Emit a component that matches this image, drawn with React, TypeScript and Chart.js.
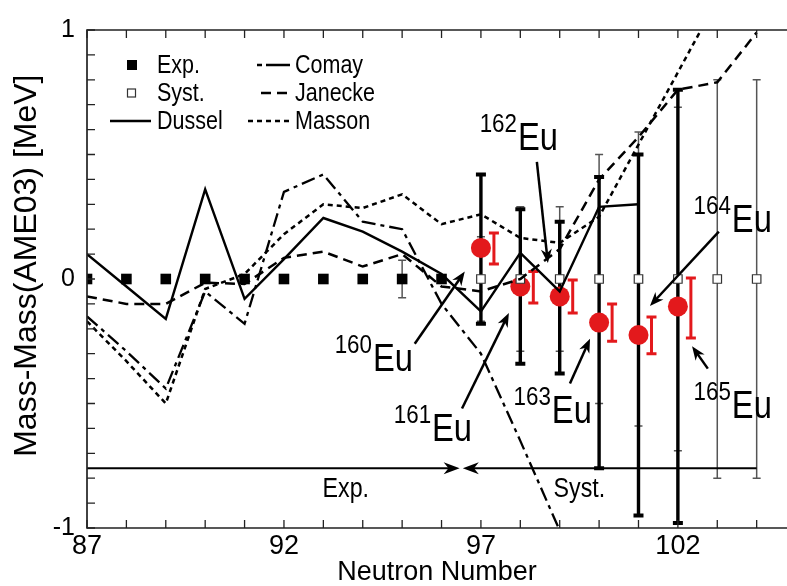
import React, { useEffect, useRef } from "react";
import { Chart, registerables } from "chart.js";

Chart.register(...registerables);

const REGULAR = "'Liberation Sans', Arial, sans-serif";
const INK = "#000000";
const RED = "#e3191c";
const CONDENSE = 0.86;

// ---- data (neutron number N, mass difference in MeV) ----
const dusselN = [87, 88, 89, 90, 91, 92, 93, 94, 95, 96, 97, 98, 99, 100, 101];
const dusselV = [0.10, -0.03, -0.16, 0.36, -0.08, 0.08, 0.245, 0.19, 0.11, 0.02, -0.13, 0.105, -0.05, 0.29, 0.30];

const comayN = [87, 88, 89, 90, 91, 92, 93, 94, 95, 96, 97, 98, 99];
const comayV = [-0.15, -0.29, -0.44, -0.05, -0.18, 0.35, 0.42, 0.23, 0.20, -0.10, -0.30, -0.65, -1.01];

const janeckeN = [87, 88, 89, 90, 91, 92, 93, 94, 95, 96, 97, 98, 99, 100, 101, 102, 103, 104];
const janeckeV = [-0.07, -0.10, -0.10, -0.015, -0.02, 0.085, 0.11, 0.05, 0.10, -0.03, -0.05, 0.0, 0.12, 0.40, 0.57, 0.76, 0.79, 0.99];

const massonN = [87, 88, 89, 90, 91, 92, 93, 94, 95, 96, 97, 98, 99, 100, 101, 102, 103];
const massonV = [-0.17, -0.33, -0.50, -0.04, 0.02, 0.18, 0.30, 0.285, 0.34, 0.22, 0.26, 0.165, 0.145, 0.25, 0.54, 0.83, 1.12];

const expN = [87, 88, 89, 90, 91, 92, 93, 94, 95, 96];
const expV = [0, 0, 0, 0, 0, 0, 0, 0, 0, 0];
const expErr = [0, 0, 0, 0, 0, 0, 0, 0, 0.075, 0];

const systN = [97, 98, 99, 100, 101, 102, 103, 104];
const systV = [0, 0, 0, 0, 0, 0, 0, 0];
const systErr = [0.17, 0.29, 0.29, 0.50, 0.59, 0.69, 0.80, 0.80];

const euN = [97, 98, 99, 100, 101, 102];
const euV = [0.125, -0.03, -0.07, -0.175, -0.225, -0.11];
const euBarLow = [-0.18, -0.34, -0.38, -0.76, -0.95, -0.98];
const euBarHigh = [0.42, 0.28, 0.23, 0.41, 0.50, 0.76];
const redBarLow = [0.06, -0.096, -0.137, -0.25, -0.30, -0.237];
const redBarHigh = [0.185, 0.03, -0.004, -0.10, -0.153, 0.004];

// isotope annotations
const isoMass = ["160", "161", "162", "163", "164", "165"];
const isoTextN = [94.26, 95.76, 97.94, 98.80, 103.37, 103.37];
const isoTextV = [-0.37, -0.65, 0.52, -0.58, 0.19, -0.56];
const arrowFromN = [95.32, 96.52, 98.42, 99.26, 103.04, 102.76];
const arrowFromV = [-0.26, -0.52, 0.47, -0.42, 0.19, -0.36];
const arrowToN = [96.59, 97.71, 98.70, 99.77, 101.29, 102.36];
const arrowToV = [0.03, -0.137, 0.064, -0.24, -0.108, -0.27];

// Exp./Syst. range arrows
const rangeLabels = ["Exp.", "Syst."];
const rangeLabelN = [93.57, 99.5];
const rangeLabelV = [-0.845, -0.845];
const rangeArrowV = -0.76;
const expRange = [87, 96.46];
const systRange = [104, 96.54];

const xTickLabels = [87, 92, 97, 102];
const yTickLabels = [-1, 0, 1];

const legendNames = ["Exp.", "Syst.", "Dussel", "Comay", "Janecke", "Masson"];

const COMAY_DASH = [14, 5, 4, 5];
const JANECKE_DASH = [10, 6];
const MASSON_DASH = [5, 4];

function toXY(ns: number[], vs: number[]) {
  return ns.map((n, i) => ({ x: n, y: vs[i] }));
}

function condText(ctx: CanvasRenderingContext2D, text: string, x: number, y: number, size: number, align: CanvasTextAlign, baseline: CanvasTextBaseline) {
  ctx.save();
  ctx.translate(x, y);
  ctx.scale(CONDENSE, 1);
  ctx.font = `${size}px ${REGULAR}`;
  ctx.textAlign = align;
  ctx.textBaseline = baseline;
  ctx.fillText(text, 0, 0);
  ctx.restore();
}

function vBar(ctx: CanvasRenderingContext2D, x: number, yTop: number, yBot: number, capHalf: number, lw: number, capLw: number, color: string) {
  ctx.strokeStyle = color;
  ctx.lineCap = "butt";
  ctx.setLineDash([]);
  ctx.lineWidth = lw;
  ctx.beginPath();
  ctx.moveTo(x, yTop);
  ctx.lineTo(x, yBot);
  ctx.stroke();
  ctx.lineWidth = capLw;
  ctx.beginPath();
  ctx.moveTo(x - capHalf, yTop);
  ctx.lineTo(x + capHalf, yTop);
  ctx.moveTo(x - capHalf, yBot);
  ctx.lineTo(x + capHalf, yBot);
  ctx.stroke();
}

function arrow(ctx: CanvasRenderingContext2D, x1: number, y1: number, x2: number, y2: number, lw: number, len: number, half: number) {
  const a = Math.atan2(y2 - y1, x2 - x1);
  const c = Math.cos(a);
  const s = Math.sin(a);
  ctx.setLineDash([]);
  ctx.lineWidth = lw;
  ctx.beginPath();
  ctx.moveTo(x1, y1);
  ctx.lineTo(x2 - c * len * 0.6, y2 - s * len * 0.6);
  ctx.stroke();
  const bx = x2 - c * len;
  const by = y2 - s * len;
  const nx = x2 - c * len * 0.7;
  const ny = y2 - s * len * 0.7;
  ctx.beginPath();
  ctx.moveTo(x2, y2);
  ctx.lineTo(bx - s * half, by + c * half);
  ctx.lineTo(nx, ny);
  ctx.lineTo(bx + s * half, by - c * half);
  ctx.closePath();
  ctx.fill();
}

const decorPlugin = {
  id: "decor",
  beforeDatasetsDraw(chart: any) {
    const ctx: CanvasRenderingContext2D = chart.ctx;
    const xs = chart.scales.x;
    const ys = chart.scales.y;
    const X = (n: number) => xs.getPixelForValue(n);
    const Y = (v: number) => ys.getPixelForValue(v);
    ctx.save();
    systN.forEach((n, i) => {
      vBar(ctx, X(n), Y(systV[i] + systErr[i]), Y(systV[i] - systErr[i]), 4, 1.5, 1.5, "#555");
    });
    expN.forEach((n, i) => {
      if (expErr[i] > 0) vBar(ctx, X(n), Y(expV[i] + expErr[i]), Y(expV[i] - expErr[i]), 4, 1.5, 1.5, "#555");
    });
    euN.forEach((n, i) => {
      vBar(ctx, X(n), Y(euBarHigh[i]), Y(euBarLow[i]), 5, 3.4, 4, "#000");
    });
    euN.forEach((n, i) => {
      vBar(ctx, X(n + 0.33), Y(redBarHigh[i]), Y(redBarLow[i]), 5, 3, 3, RED);
    });
    ctx.strokeStyle = "#000";
    ctx.fillStyle = "#000";
    const ya = Y(rangeArrowV);
    arrow(ctx, X(expRange[0]), ya, X(expRange[1]), ya, 2.2, 16, 6);
    arrow(ctx, X(systRange[0]), ya, X(systRange[1]), ya, 2.2, 16, 6);
    ctx.restore();
  },
  afterDraw(chart: any) {
    const ctx: CanvasRenderingContext2D = chart.ctx;
    const { left, right, top, bottom } = chart.chartArea;
    const xs = chart.scales.x;
    const ys = chart.scales.y;
    const X = (n: number) => xs.getPixelForValue(n);
    const Y = (v: number) => ys.getPixelForValue(v);
    ctx.save();
    ctx.setLineDash([]);
    ctx.strokeStyle = "#222";
    ctx.lineWidth = 1.7;
    ctx.beginPath();
    ctx.moveTo(right, top);
    ctx.lineTo(left, top);
    ctx.lineTo(left, bottom);
    ctx.lineTo(right, bottom);
    ctx.stroke();
    ctx.lineWidth = 1.3;
    ctx.beginPath();
    xs.ticks.forEach((t: any) => {
      const x = X(t.value);
      ctx.moveTo(x, bottom);
      ctx.lineTo(x, bottom - 8);
      ctx.moveTo(x, top);
      ctx.lineTo(x, top + 8);
    });
    ys.ticks.forEach((t: any) => {
      const y = Y(t.value);
      ctx.moveTo(left, y);
      ctx.lineTo(left + 8, y);
    });
    ctx.stroke();

    // isotope labels + arrows
    ctx.strokeStyle = "#000";
    isoMass.forEach((m, i) => {
      const tx = X(isoTextN[i]);
      const ty = Y(isoTextV[i]);
      ctx.fillStyle = INK;
      condText(ctx, "Eu", tx, ty, 38, "left", "alphabetic");
      condText(ctx, m, tx - 1, ty - 18, 26, "right", "alphabetic");
      ctx.fillStyle = "#000";
      arrow(ctx, X(arrowFromN[i]), Y(arrowFromV[i]), X(arrowToN[i]), Y(arrowToV[i]), 2.5, 14, 5.5);
    });

    // range labels
    ctx.fillStyle = INK;
    rangeLabels.forEach((t, i) => {
      condText(ctx, t, X(rangeLabelN[i]), Y(rangeLabelV[i]), 27, "center", "middle");
    });

    // legend
    const rowY = [top + 35, top + 63, top + 91];
    ctx.fillStyle = "#000";
    ctx.fillRect(left + 40, rowY[0] - 5, 10, 10);
    ctx.fillStyle = "#fff";
    ctx.strokeStyle = "#333";
    ctx.lineWidth = 1.2;
    ctx.fillRect(left + 40.5, rowY[1] - 4, 8, 8);
    ctx.strokeRect(left + 40.5, rowY[1] - 4, 8, 8);
    ctx.strokeStyle = "#000";
    ctx.lineWidth = 2.4;
    ctx.beginPath();
    ctx.moveTo(left + 23, rowY[2]);
    ctx.lineTo(left + 64, rowY[2]);
    ctx.stroke();
    ctx.setLineDash([5, 4, 24, 4]);
    ctx.beginPath();
    ctx.moveTo(left + 170, rowY[0]);
    ctx.lineTo(left + 206, rowY[0]);
    ctx.stroke();
    ctx.setLineDash([10, 6]);
    ctx.beginPath();
    ctx.moveTo(left + 174, rowY[1]);
    ctx.lineTo(left + 204, rowY[1]);
    ctx.stroke();
    ctx.setLineDash([5, 4]);
    ctx.beginPath();
    ctx.moveTo(left + 161, rowY[2]);
    ctx.lineTo(left + 206, rowY[2]);
    ctx.stroke();
    ctx.setLineDash([]);
    ctx.fillStyle = INK;
    const colX = [left + 70, left + 70, left + 70, left + 208, left + 208, left + 208];
    legendNames.forEach((name, i) => {
      condText(ctx, name, colX[i], rowY[i % 3] + 1, 25, "left", "middle");
    });
    ctx.restore();
  },
};

export default function App() {
  const canvasRef = useRef<HTMLCanvasElement | null>(null);

  useEffect(() => {
    const canvas = canvasRef.current;
    if (!canvas) return;
    const lineCommon = { showLine: true, pointRadius: 0, borderColor: "#000", tension: 0, fill: false };
    const chart = new Chart(canvas, {
      type: "scatter",
      data: {
        datasets: [
          { ...lineCommon, label: "Dussel", data: toXY(dusselN, dusselV), borderWidth: 2.4 },
          { ...lineCommon, label: "Comay", data: toXY(comayN, comayV), borderWidth: 2.3, borderDash: COMAY_DASH },
          { ...lineCommon, label: "Janecke", data: toXY(janeckeN, janeckeV), borderWidth: 2.5, borderDash: JANECKE_DASH },
          { ...lineCommon, label: "Masson", data: toXY(massonN, massonV), borderWidth: 2.5, borderDash: MASSON_DASH },
          {
            label: "Exp.", data: toXY(expN, expV), showLine: false, pointStyle: "rect",
            pointRadius: 7.5, backgroundColor: "#000", borderColor: "#000", borderWidth: 0,
          },
          {
            label: "Syst.", data: toXY(systN, systV), showLine: false, pointStyle: "rect",
            pointRadius: 6, backgroundColor: "#fff", borderColor: "#333", borderWidth: 1.2,
          },
          {
            label: "Eu", data: toXY(euN, euV), showLine: false, pointStyle: "circle",
            pointRadius: 10, backgroundColor: RED, borderColor: RED, borderWidth: 0,
          },
        ],
      },
      options: {
        responsive: false,
        animation: false,
        devicePixelRatio: 1,
        layout: { autoPadding: false, padding: { top: 30, left: 0, right: 0, bottom: 0 } },
        plugins: { legend: { display: false }, tooltip: { enabled: false } },
        scales: {
          x: {
            type: "linear",
            min: 87,
            max: 104.77,
            grid: { display: false, drawTicks: false },
            border: { display: false },
            ticks: {
              stepSize: 1,
              autoSkip: false,
              includeBounds: false,
              maxRotation: 0,
              padding: 5,
              color: INK,
              font: { family: REGULAR, size: 27, lineHeight: 1 },
              callback: (v: any) => (xTickLabels.includes(Number(v)) ? String(v) : ""),
            },
            title: {
              display: true,
              text: "Neutron Number",
              color: INK,
              font: { family: REGULAR, size: 27, lineHeight: 1 },
              padding: { top: 0, bottom: 0 },
            },
            afterFit: (s: any) => {
              s.height = 58;
              s.paddingRight = 0;
              s.paddingLeft = 0;
            },
          },
          y: {
            type: "linear",
            min: -1,
            max: 1,
            grid: { display: false, drawTicks: false },
            border: { display: false },
            ticks: {
              stepSize: 0.1,
              autoSkip: false,
              padding: 12,
              color: INK,
              font: { family: REGULAR, size: 25, lineHeight: 1 },
              callback: (v: any) => {
                const r = Math.round(Number(v));
                return Math.abs(Number(v) - r) < 1e-6 && yTickLabels.includes(r) ? String(r) : "";
              },
            },
            title: {
              display: true,
              text: "   Mass-Mass(AME03) [MeV]",
              color: INK,
              font: { family: REGULAR, size: 32, lineHeight: 1 },
              padding: { top: 11, bottom: 0 },
            },
            afterFit: (s: any) => { s.width = 87; },
          },
        },
      },
      plugins: [decorPlugin],
    } as any);
    return () => chart.destroy();
  }, []);

  return (
    <div style={{ position: "absolute", left: 0, top: 0, width: 787, height: 586, background: "#fff" }}>
      <canvas ref={canvasRef} width={787} height={586} style={{ display: "block", width: 787, height: 586 }} />
    </div>
  );
}
